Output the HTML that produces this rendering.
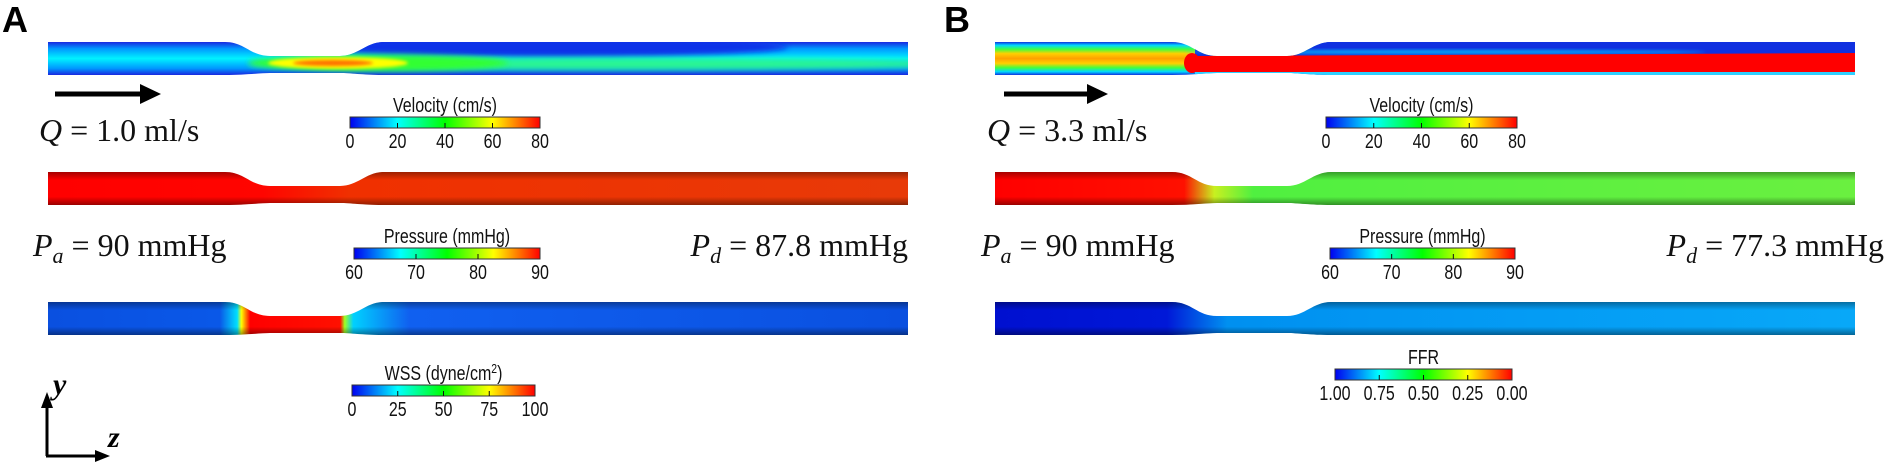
<!DOCTYPE html>
<html><head><meta charset="utf-8"><style>
html,body{margin:0;padding:0;background:#fff;}
svg{display:block;}
.cbt{font-family:"Liberation Sans",sans-serif;font-size:20px;fill:#111;}
.cbl{font-family:"Liberation Sans",sans-serif;font-size:20px;fill:#111;}
.eq{font-family:"Liberation Serif",serif;font-size:32px;fill:#111;}
.pl{font-family:"Liberation Sans",sans-serif;font-size:36px;font-weight:bold;fill:#000;}
</style></head><body>
<svg id="fig" width="1888" height="470" viewBox="0 0 1888 470" xmlns="http://www.w3.org/2000/svg">
<defs>
<linearGradient id="jet" x1="0" x2="1" y1="0" y2="0">
<stop offset="0" stop-color="#0000f0"/><stop offset="0.25" stop-color="#00ffff"/><stop offset="0.5" stop-color="#00ff00"/><stop offset="0.75" stop-color="#ffff00"/><stop offset="1" stop-color="#ff0000"/></linearGradient>
<linearGradient id="velA" x1="0" x2="0" y1="0" y2="1">
<stop offset="0" stop-color="#1a28e0"/><stop offset="0.2" stop-color="#0098ff"/><stop offset="0.5" stop-color="#00f2ff"/><stop offset="0.8" stop-color="#0098ff"/><stop offset="1" stop-color="#1a28e0"/></linearGradient>
<linearGradient id="velB" x1="0" x2="0" y1="0" y2="1">
<stop offset="0" stop-color="#1030e0"/><stop offset="0.1" stop-color="#00d8ff"/><stop offset="0.22" stop-color="#40ff40"/><stop offset="0.35" stop-color="#ffd000"/><stop offset="0.5" stop-color="#ffa000"/><stop offset="0.65" stop-color="#ffd000"/><stop offset="0.78" stop-color="#40ff40"/><stop offset="0.9" stop-color="#00d8ff"/><stop offset="1" stop-color="#1030e0"/></linearGradient>
<linearGradient id="shade" x1="0" x2="0" y1="0" y2="1">
<stop offset="0" stop-color="#000" stop-opacity="0.35"/><stop offset="0.25" stop-color="#000" stop-opacity="0"/><stop offset="0.75" stop-color="#000" stop-opacity="0"/><stop offset="1" stop-color="#000" stop-opacity="0.4"/></linearGradient>
<linearGradient id="presA" x1="0" x2="1"><stop offset="0" stop-color="#ff0000"/><stop offset="0.25" stop-color="#ff0500"/><stop offset="0.35" stop-color="#f03000"/><stop offset="1" stop-color="#e83a08"/></linearGradient>
<linearGradient id="presB" x1="0" x2="1"><stop offset="0" stop-color="#ff0000"/><stop offset="0.22" stop-color="#ff1000"/><stop offset="0.255" stop-color="#c8f020"/><stop offset="0.3" stop-color="#50f040"/><stop offset="1" stop-color="#6af040"/></linearGradient>
<linearGradient id="ffrB" x1="0" x2="1"><stop offset="0" stop-color="#0010d0"/><stop offset="0.2" stop-color="#0018d8"/><stop offset="0.27" stop-color="#0090f0"/><stop offset="1" stop-color="#08a8f8"/></linearGradient>
<linearGradient id="wssA" x1="0" x2="1"><stop offset="0" stop-color="#0a50e0"/><stop offset="0.2" stop-color="#0a58e8"/><stop offset="0.22" stop-color="#00e0ff"/><stop offset="0.225" stop-color="#ffff00"/><stop offset="0.235" stop-color="#ff0000"/><stop offset="0.34" stop-color="#ff1000"/><stop offset="0.345" stop-color="#a0ff20"/><stop offset="0.355" stop-color="#00d0ff"/><stop offset="0.42" stop-color="#1060f0"/><stop offset="1" stop-color="#0a50e0"/></linearGradient>
<filter id="blur" x="-10%" y="-50%" width="120%" height="200%"><feGaussianBlur stdDeviation="3"/></filter>
<filter id="blur2" x="-10%" y="-50%" width="120%" height="200%"><feGaussianBlur stdDeviation="1.5"/></filter>
</defs>
<g id="vessels"></g>
<g id="bars"></g>

<text class="pl" x="2" y="32">A</text>
<text class="pl" x="944" y="32">B</text>

<g>
<rect x="55" y="91.5" width="88" height="5" fill="#000"/><polygon points="140,84 161,94 140,104" fill="#000"/></g>
<g>
<rect x="1004" y="91.5" width="86" height="5" fill="#000"/><polygon points="1087,84 1108,94 1087,104" fill="#000"/></g>

<text class="eq" x="39" y="141"><tspan font-style="italic">Q</tspan> = 1.0 ml/s</text>
<text class="eq" x="987" y="141"><tspan font-style="italic">Q</tspan> = 3.3 ml/s</text>
<text class="eq" x="33" y="256"><tspan font-style="italic">P</tspan><tspan font-style="italic" font-size="22" dy="7">a</tspan><tspan dy="-7"> = 90 mmHg</tspan></text>
<text class="eq" x="908" y="256" text-anchor="end"><tspan font-style="italic">P</tspan><tspan font-style="italic" font-size="22" dy="7">d</tspan><tspan dy="-7"> = 87.8 mmHg</tspan></text>
<text class="eq" x="981" y="256"><tspan font-style="italic">P</tspan><tspan font-style="italic" font-size="22" dy="7">a</tspan><tspan dy="-7"> = 90 mmHg</tspan></text>
<text class="eq" x="1884" y="256" text-anchor="end"><tspan font-style="italic">P</tspan><tspan font-style="italic" font-size="22" dy="7">d</tspan><tspan dy="-7"> = 77.3 mmHg</tspan></text>

<g>
<line x1="47" y1="456" x2="47" y2="405" stroke="#000" stroke-width="3"/><polygon points="41,408 47,392 53,408" fill="#000"/>
<line x1="46" y1="456" x2="98" y2="456" stroke="#000" stroke-width="3"/><polygon points="95,450 110,456 95,462" fill="#000"/>
<text x="53" y="394" font-family="Liberation Serif,serif" font-style="italic" font-weight="bold" font-size="30">y</text>
<text x="108" y="447" font-family="Liberation Serif,serif" font-style="italic" font-weight="bold" font-size="30">z</text>
</g>
</svg>
<script>
const NS='http://www.w3.org/2000/svg';
const velTicks=['0','20','40','60','80'];
const presTicks=['60','70','80','90'];
const wssTicks=['0','25','50','75','100'];
const ffrTicks=['1.00','0.75','0.50','0.25','0.00'];
const rowTops=[42,172,302];
const panelX=[48,995];
const vesselLen=860;
const sten=[177,222,292,336];
const stenDepth=14;

function mk(tag,attrs,parent){const e=document.createElementNS(NS,tag);for(const k in attrs)e.setAttribute(k,attrs[k]);parent.appendChild(e);return e;}
function vesselPath(x0,y0){
  const h=33,x1=x0+vesselLen,a=x0+sten[0],b=x0+sten[1],c=x0+sten[2],d=x0+sten[3];
  return `M${x0},${y0} L${a},${y0} C${a+20},${y0} ${b-20},${y0+stenDepth} ${b},${y0+stenDepth} L${c},${y0+stenDepth} C${c+18},${y0+stenDepth} ${d-18},${y0} ${d},${y0} L${x1},${y0} L${x1},${y0+h} L${d},${y0+h} C${d-20},${y0+h} ${c+10},${y0+h-2} ${c},${y0+h-2} L${b},${y0+h-2} C${b-10},${y0+h-2} ${a+20},${y0+h} ${a},${y0+h} L${x0},${y0+h} Z`;
}
const vg=document.getElementById('vessels');
const defs=document.querySelector('defs');
const fills={A:['url(#velA)','url(#presA)','url(#wssA)'],B:['url(#velB)','url(#presB)','url(#ffrB)']};
const names=['velocity','pressure','wss'];
const namesB=['velocity','pressure','ffr'];
['A','B'].forEach((p,pi)=>{
  rowTops.forEach((y0,ri)=>{
    const id='clip'+p+ri;
    const cp=mk('clipPath',{id:id},defs);
    mk('path',{d:vesselPath(panelX[pi],y0)},cp);
    const g=mk('g',{'clip-path':'url(#'+id+')'},vg);
    
    
    const x0=panelX[pi];
    mk('rect',{x:x0,y:y0,width:vesselLen,height:33,fill:fills[p][ri]},g);
    if(ri===0&&p==='A'){
      mk('ellipse',{cx:x0+500,cy:y0+5,rx:240,ry:10,fill:'#1030e8',filter:'url(#blur)'},g);
      mk('ellipse',{cx:x0+560,cy:y0+22,rx:360,ry:6,fill:'#30ff80',opacity:0.85,filter:'url(#blur)'},g);
      mk('ellipse',{cx:x0+330,cy:y0+21,rx:130,ry:8,fill:'#30ff30',filter:'url(#blur)'},g);
      mk('ellipse',{cx:x0+290,cy:y0+21,rx:70,ry:6,fill:'#ffff00',filter:'url(#blur2)'},g);
      mk('ellipse',{cx:x0+285,cy:y0+21,rx:40,ry:3,fill:'#ff7000',filter:'url(#blur2)'},g);
    }
    if(ri===0&&p==='B'){
      mk('rect',{x:x0+200,y:y0,width:700,height:17,fill:'#1030e0'},g);
      mk('ellipse',{cx:x0+450,cy:y0+10,rx:260,ry:2,fill:'#00e0ff',opacity:0.7,filter:'url(#blur2)'},g);
      mk('rect',{x:x0+200,y:y0+15,width:700,height:3,fill:'#40ff60',opacity:0.8},g);
      mk('polygon',{points:`${x0+195},${y0+14} ${x0+870},${y0+11} ${x0+870},${y0+31} ${x0+195},${y0+30}`,fill:'#ff0000'},g);
      mk('ellipse',{cx:x0+197,cy:y0+21,rx:8,ry:10,fill:'#ff0000'},g);
      mk('rect',{x:x0+200,y:y0+30,width:700,height:3,fill:'#30d0ff'},g);
    }
    if(ri>0) mk('rect',{x:x0,y:y0,width:vesselLen,height:33,fill:'url(#shade)'},g);
  });
});

const bg=document.getElementById('bars');
const SX=0.8;
function colorbar(name,x,y,w,title,ticks,grad,titleSup){
  const g=mk('g',{},bg);
  
  
  const t=mk('text',{class:'cbt',x:0,y:0,'text-anchor':'middle',transform:`translate(${x+w/2},${y-5}) scale(${SX},1)`},g);
  
  
  t.textContent=title;
  if(titleSup){const s=mk('tspan',{'font-size':'13',dy:'-7'},t);s.textContent='2';const s2=mk('tspan',{dy:'7'},t);s2.textContent=')';}
  mk('rect',{x:x,y:y,width:w,height:11,fill:grad,stroke:'#333','stroke-width':1},g);
  ticks.forEach((tk,i)=>{
    const tx=x+w*i/(ticks.length-1);
    if(i>0 && i<ticks.length-1) mk('line',{x1:tx,y1:y+6,x2:tx,y2:y+11,stroke:'#111','stroke-width':1},g);
    const l=mk('text',{class:'cbl',x:0,y:0,'text-anchor':'middle',transform:`translate(${tx},${y+31}) scale(${SX},1)`},g);
    
    
    l.textContent=tk;
  });
}
colorbar('velocity-colorbar-a',350,117,190,'Velocity (cm/s)',velTicks,'url(#jet)');
colorbar('pressure-colorbar-a',354,248,186,'Pressure (mmHg)',presTicks,'url(#jet)');
colorbar('wss-colorbar-a',352,385,183,'WSS (dyne/cm',wssTicks,'url(#jet)',true);
colorbar('velocity-colorbar-b',1326,117,191,'Velocity (cm/s)',velTicks,'url(#jet)');
colorbar('pressure-colorbar-b',1330,248,185,'Pressure (mmHg)',presTicks,'url(#jet)');
colorbar('ffr-colorbar-b',1335,369,177,'FFR',ffrTicks,'url(#jet)');
</script>
</body></html>
